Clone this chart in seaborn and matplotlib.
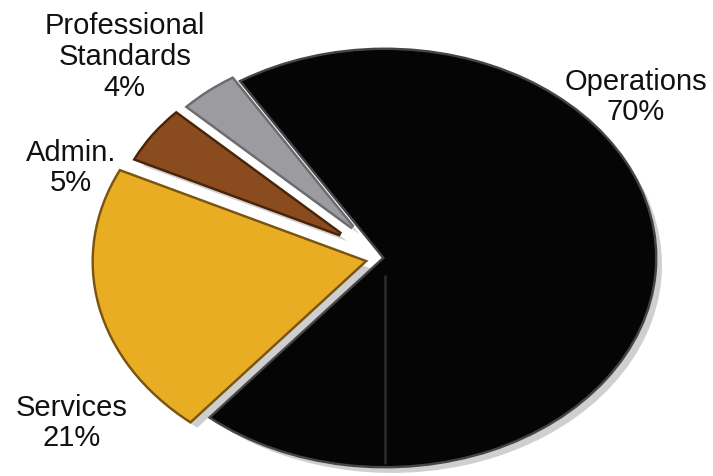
import matplotlib
matplotlib.use("Agg")
import matplotlib.pyplot as plt
import matplotlib.patheffects as pe
import seaborn as sns

# Budget share by division
divisions = ["Operations", "Services", "Admin.", "Professional\nStandards"]
shares = [70, 21, 5, 4]
colors = ["#050505", "#E9AD24", "#8A4B1F", "#9C9CA0"]
explode = [0.0, 0.08, 0.2, 0.19]
radii = [1.0, 1.0, 0.84, 0.84]

sns.set_theme(style="white")
plt.rcParams["font.family"] = ["Liberation Sans", "DejaVu Sans"]

fig = plt.figure(figsize=(7.13, 4.76), dpi=100)
ax = fig.add_axes([0.1613, 0.021, 0.7574, 0.874])

wedges, _ = ax.pie(
    shares,
    colors=colors,
    explode=explode,
    startangle=122,
    counterclock=False,
    radius=1.0,
    wedgeprops=dict(linewidth=0),
)
ax.set_aspect("auto")
ax.set_xlim(-1, 1)
ax.set_ylim(-1, 1)
ax.axis("off")

rims = ["#454545", "#7a5410", "#4a2408", "#6c6c70"]
for w, rim, r in zip(wedges, rims, radii):
    w.set_radius(r)
    w.set_clip_on(False)
    w.set_path_effects([
        pe.SimplePatchShadow(offset=(5, -5), shadow_rgbFace="#777777", alpha=0.35),
        pe.Stroke(linewidth=3.5, foreground=rim),
        pe.Normal(),
    ])

# faint seam on the large slice
ax.plot([0, 0], [-0.08, -0.99], color="#2c2c2c", lw=1.8, solid_capstyle="butt")

# Labels placed around the pie
label_pos = {
    "Operations": (0.892, 0.796),
    "Services": (0.101, 0.111),
    "Admin.": (0.0996, 0.647),
    "Professional\nStandards": (0.175, 0.880),
}
for name, val in zip(divisions, shares):
    x, y = label_pos[name]
    fig.text(x, y, f"{name}\n{val}%", ha="center", va="center",
             fontsize=21, color="#111111", linespacing=1.12)

fig.savefig("out.png", dpi=100, facecolor="white")
